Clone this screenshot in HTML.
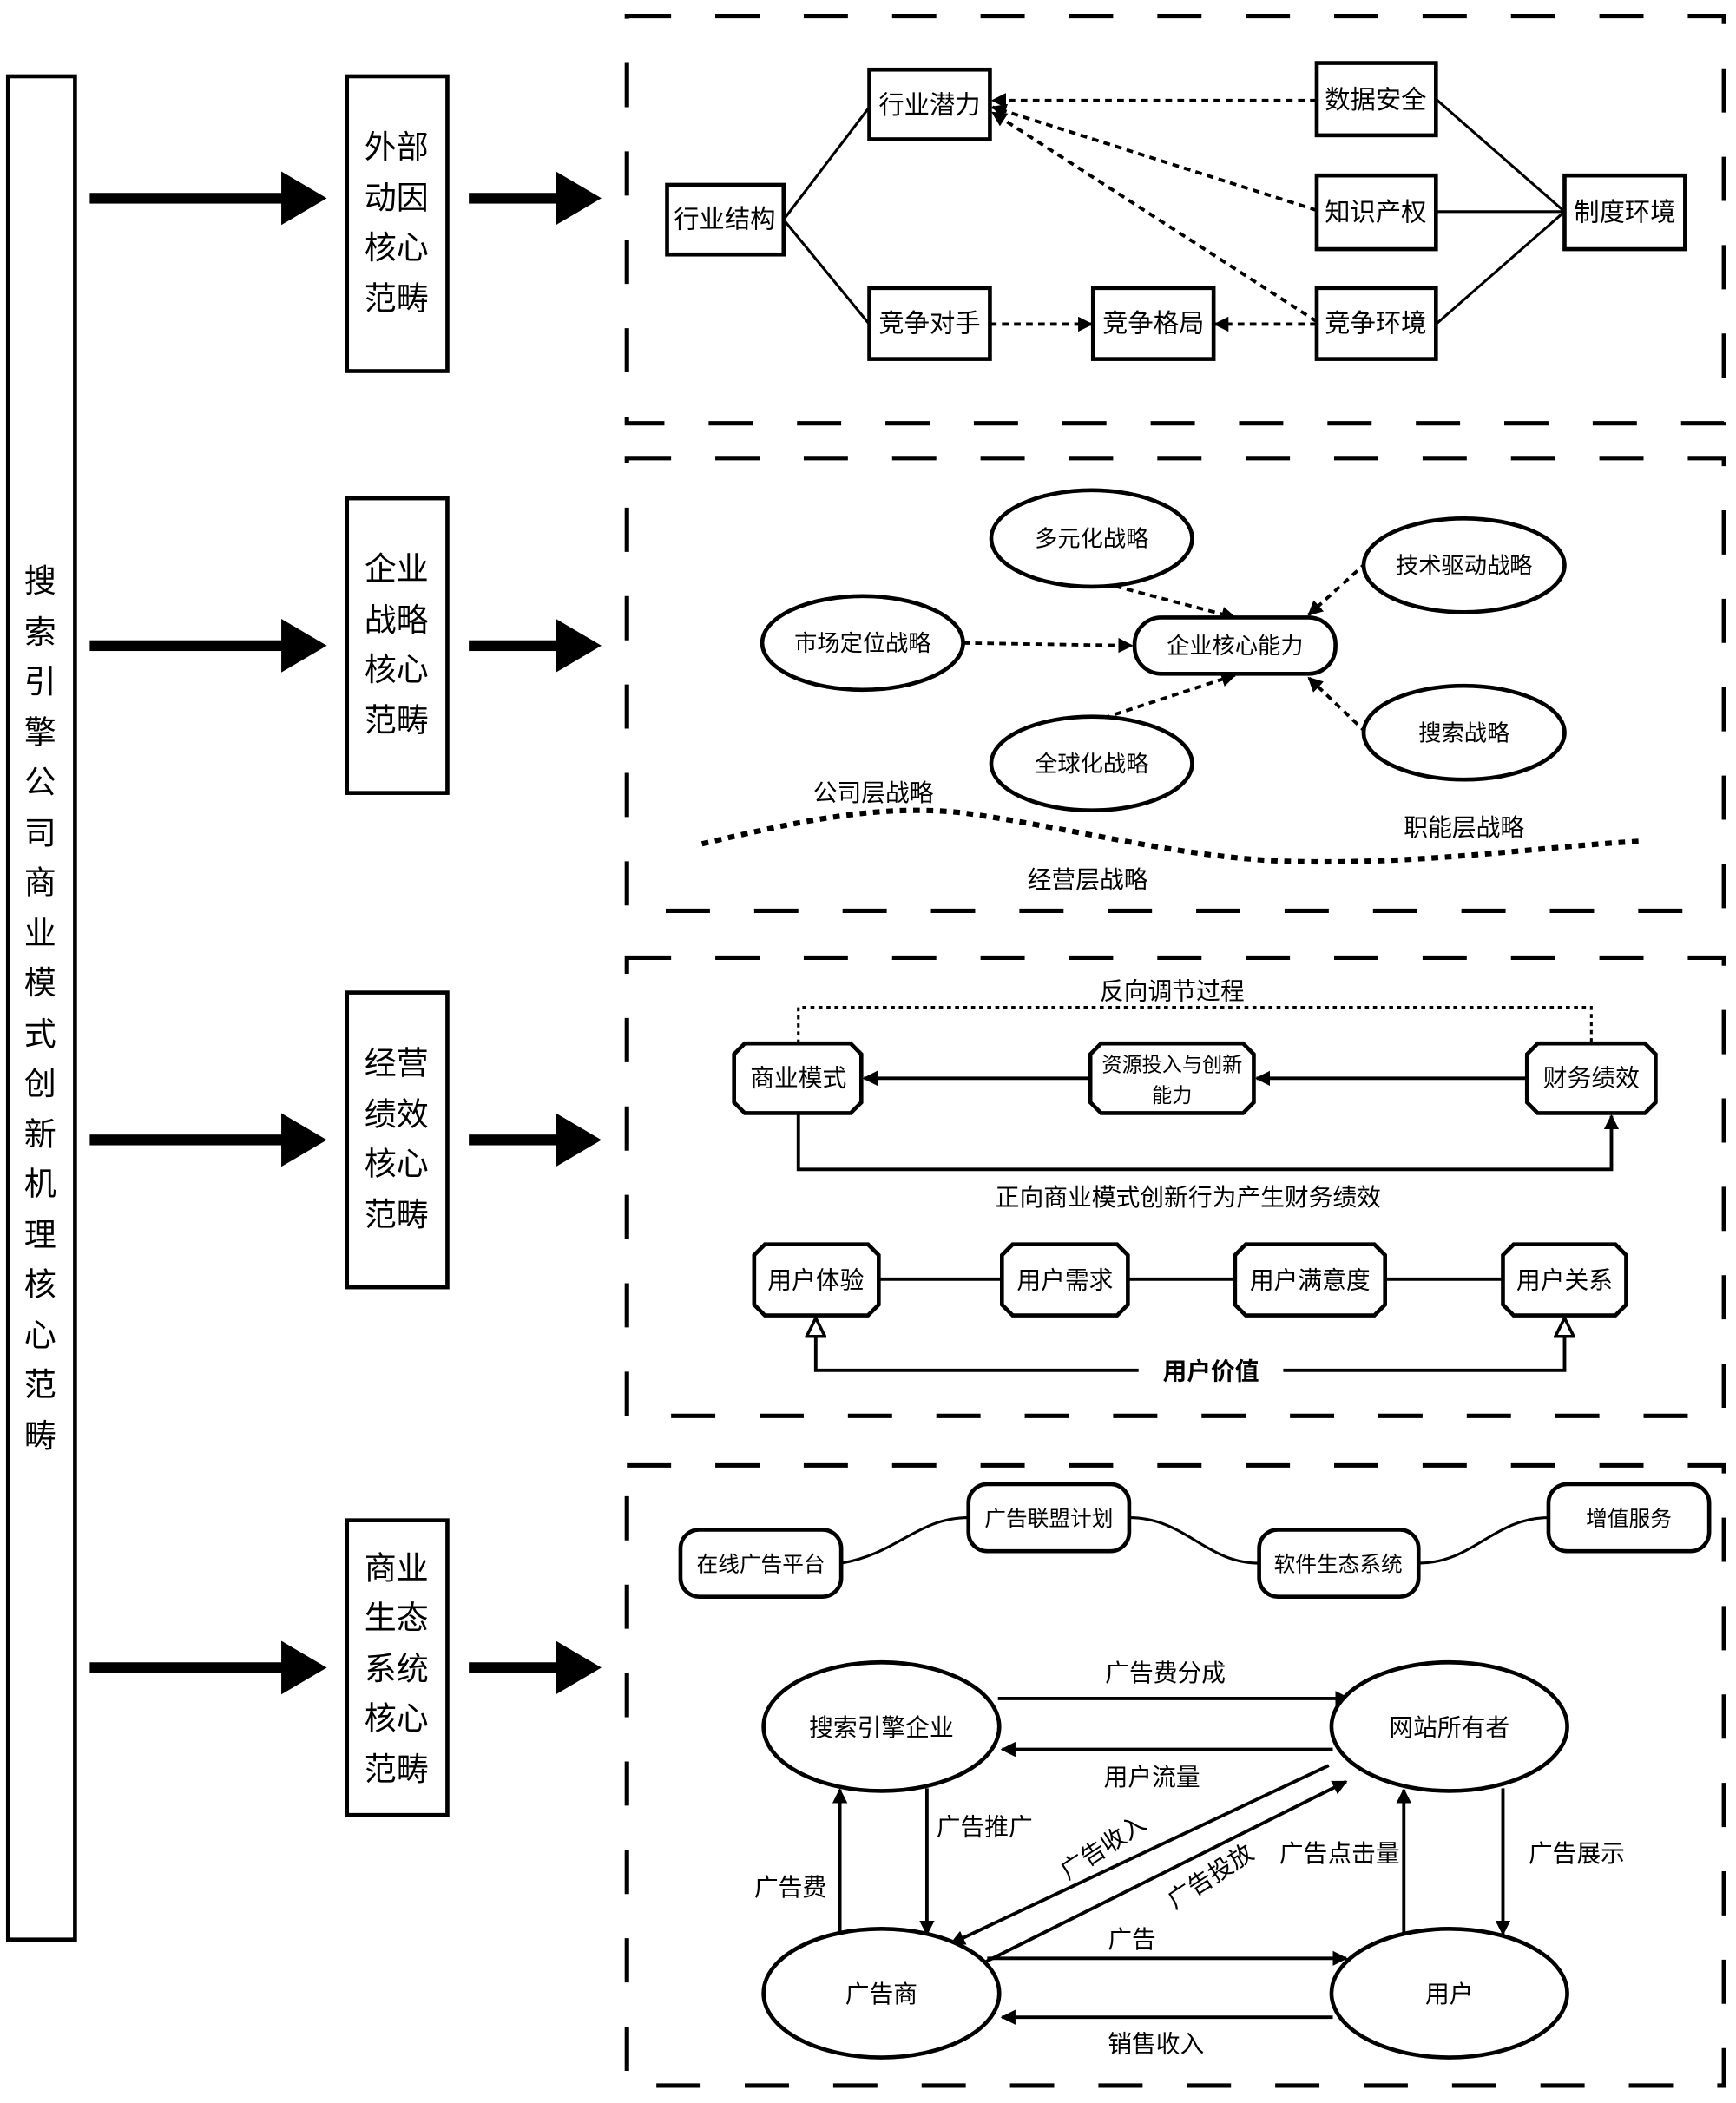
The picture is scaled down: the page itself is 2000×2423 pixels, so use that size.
<!DOCTYPE html>
<html><head><meta charset="utf-8"><style>
html,body{margin:0;padding:0;background:#fff}
svg{display:block}
text{font-family:"Liberation Sans","Noto Sans CJK SC",sans-serif;fill:#000}
</style></head><body>
<svg width="2000" height="2423" viewBox="0 0 1296 1570" preserveAspectRatio="none" xmlns="http://www.w3.org/2000/svg">
<defs>
<marker id="a" viewBox="0 0 10 10" refX="9" refY="5" markerWidth="4.5" markerHeight="4.5" orient="auto"><path d="M0,0L10,5L0,10z" fill="#000"/></marker>
<marker id="h" viewBox="0 0 14 14" refX="13" refY="7" markerWidth="16" markerHeight="16" orient="auto" markerUnits="userSpaceOnUse"><path d="M1,1L13,7L1,13z" fill="#fff" stroke="#000" stroke-width="2"/></marker>
<g id="ar" fill="#000"><rect x="67" y="-4" width="145" height="8"/><path d="M210,-20L244,0L210,20z"/><rect x="350" y="-4" width="67" height="8"/><path d="M415,-20L449,0L415,20z"/></g>
</defs>
<rect width="1296" height="1570" fill="#fff"/>
<!-- left tall box -->
<rect x="6" y="57" width="50" height="1391" fill="#fff" stroke="#000" stroke-width="3"/>
<g font-size="24" text-anchor="middle">
<text x="30" y="442">搜</text><text x="30" y="480">索</text><text x="30" y="517">引</text><text x="30" y="555">擎</text><text x="30" y="592">公</text><text x="30" y="630">司</text><text x="30" y="667">商</text><text x="30" y="705">业</text><text x="30" y="742">模</text><text x="30" y="780">式</text><text x="30" y="817">创</text><text x="30" y="855">新</text><text x="30" y="892">机</text><text x="30" y="930">理</text><text x="30" y="967">核</text><text x="30" y="1005">心</text><text x="30" y="1042">范</text><text x="30" y="1080">畴</text>
</g>
<!-- category boxes -->
<g fill="#fff" stroke="#000" stroke-width="3">
<rect x="259" y="57" width="75" height="220"/><rect x="259" y="372" width="75" height="220"/><rect x="259" y="741" width="75" height="220"/><rect x="259" y="1135" width="75" height="220"/>
</g>
<g font-size="24" text-anchor="middle">
<text x="296" y="118">外部</text><text x="296" y="156">动因</text><text x="296" y="193">核心</text><text x="296" y="231">范畴</text>
<text x="296" y="433">企业</text><text x="296" y="471">战略</text><text x="296" y="508">核心</text><text x="296" y="546">范畴</text>
<text x="296" y="802">经营</text><text x="296" y="840">绩效</text><text x="296" y="877">核心</text><text x="296" y="915">范畴</text>
<text x="296" y="1179">商业</text><text x="296" y="1216">生态</text><text x="296" y="1254">系统</text><text x="296" y="1291">核心</text><text x="296" y="1329">范畴</text>
</g>
<use href="#ar" y="148"/><use href="#ar" y="482"/><use href="#ar" y="851"/><use href="#ar" y="1245"/>
<!-- dashed panels -->
<g fill="none" stroke="#000" stroke-width="3.3" stroke-dasharray="33 33">
<rect x="468" y="12" width="819" height="304"/>
<rect x="468" y="342" width="819" height="338"/>
<rect x="468" y="715" width="819" height="342"/>
<rect x="468" y="1094" width="819" height="463"/>
</g>
<!-- panel1 -->
<g stroke="#000" stroke-width="2" fill="none">
<line x1="585" y1="164" x2="649" y2="80"/><line x1="585" y1="164" x2="649" y2="242"/>
<line x1="1168" y1="158" x2="1072" y2="74"/><line x1="1168" y1="158" x2="1072" y2="158"/><line x1="1168" y1="158" x2="1072" y2="242"/>
</g>
<g stroke="#000" stroke-width="2.5" fill="none" stroke-dasharray="5 4" marker-end="url(#a)">
<line x1="983" y1="75" x2="741" y2="75"/><line x1="983" y1="157" x2="741" y2="80"/><line x1="983" y1="240" x2="741" y2="84"/>
<line x1="739" y1="242" x2="815" y2="242"/><line x1="983" y1="242" x2="907" y2="242"/>
</g>
<g fill="#fff" stroke="#000" stroke-width="3">
<rect x="498" y="138" width="87" height="52"/><rect x="649" y="52" width="90" height="52"/><rect x="649" y="215" width="90" height="53"/><rect x="816" y="215" width="90" height="53"/>
<rect x="983" y="47" width="89" height="54"/><rect x="983" y="131" width="89" height="55"/><rect x="983" y="215" width="89" height="53"/><rect x="1168" y="131" width="90" height="55"/>
</g>
<g font-size="19" text-anchor="middle">
<text x="541" y="170">行业结构</text><text x="694" y="85">行业潜力</text><text x="694" y="248">竞争对手</text><text x="861" y="248">竞争格局</text>
<text x="1027" y="81">数据安全</text><text x="1027" y="165">知识产权</text><text x="1027" y="248">竞争环境</text><text x="1213" y="165">制度环境</text>
</g>
<!-- panel2 -->
<g stroke="#000" stroke-width="2.5" fill="none" stroke-dasharray="5 4" marker-end="url(#a)">
<line x1="815" y1="433" x2="922" y2="461"/><line x1="1020" y1="420" x2="977" y2="459"/><line x1="719" y1="480" x2="845" y2="482"/>
<line x1="815" y1="539" x2="922" y2="504"/><line x1="1020" y1="547" x2="977" y2="506"/>
</g>
<g fill="#fff" stroke="#000" stroke-width="3">
<ellipse cx="815" cy="402" rx="75" ry="36"/><ellipse cx="1093" cy="422" rx="75" ry="35"/><ellipse cx="644" cy="480" rx="75" ry="35"/><ellipse cx="815" cy="570" rx="75" ry="35"/><ellipse cx="1093" cy="547" rx="75" ry="35"/>
<rect x="847" y="461" width="150" height="42" rx="20"/>
</g>
<g font-size="17" text-anchor="middle">
<text x="815" y="408">多元化战略</text><text x="1093" y="428">技术驱动战略</text><text x="644" y="486">市场定位战略</text><text x="815" y="576">全球化战略</text><text x="1093" y="553">搜索战略</text><text x="922" y="488">企业核心能力</text>
</g>
<path d="M524,630 C600,612 660,600 720,607 C800,618 880,640 960,643 C1060,646 1150,632 1225,628" fill="none" stroke="#000" stroke-width="4" stroke-dasharray="5 5"/>
<g font-size="18" text-anchor="middle"><text x="652" y="598">公司层战略</text><text x="1093" y="624">职能层战略</text><text x="812" y="663">经营层战略</text></g>
<!-- panel3 -->
<path d="M596,779V752H1188V779" fill="none" stroke="#000" stroke-width="2" stroke-dasharray="3 3"/>
<g stroke="#000" stroke-width="2.5" fill="none" marker-end="url(#a)">
<line x1="1140" y1="805" x2="938" y2="805"/><line x1="814" y1="805" x2="645" y2="805"/>
<path d="M596,831V873H1203V833"/>
</g>
<g fill="#fff" stroke="#000" stroke-width="3">
<path d="M556,779H635L643,787V823L635,831H556L548,823V787z"/>
<path d="M822,779H928L936,787V823L928,831H822L814,823V787z"/>
<path d="M1148,779H1228L1236,787V823L1228,831H1148L1140,823V787z"/>
</g>
<g font-size="18" text-anchor="middle">
<text x="875" y="746">反向调节过程</text>
<text x="596" y="811">商业模式</text><text x="1188" y="811">财务绩效</text>
<text x="875" y="800" font-size="15">资源投入与创新</text><text x="875" y="823" font-size="15">能力</text>
<text x="887" y="900">正向商业模式创新行为产生财务绩效</text>
</g>
<line x1="656" y1="955" x2="1122" y2="955" stroke="#000" stroke-width="2.5"/>
<g stroke="#000" stroke-width="2.5" fill="none" marker-end="url(#h)">
<path d="M850,1023H609V984"/><path d="M958,1023H1168V984"/>
</g>
<g fill="#fff" stroke="#000" stroke-width="3">
<path d="M571,929H648L656,937V974L648,982H571L563,974V937z"/>
<path d="M756,929H834L842,937V974L834,982H756L748,974V937z"/>
<path d="M930,929H1026L1034,937V974L1026,982H930L922,974V937z"/>
<path d="M1130,929H1206L1214,937V974L1206,982H1130L1122,974V937z"/>
</g>
<g font-size="18" text-anchor="middle">
<text x="609" y="962">用户体验</text><text x="795" y="962">用户需求</text><text x="978" y="962">用户满意度</text><text x="1168" y="962">用户关系</text>
<text x="904" y="1030" font-weight="bold">用户价值</text>
</g>
<!-- panel4 -->
<g stroke="#000" stroke-width="2" fill="none">
<path d="M628,1167 C670,1160 685,1133 723,1133"/>
<path d="M843,1133 C885,1133 900,1167 940,1167"/>
<path d="M1059,1167 C1100,1167 1115,1133 1156,1133"/>
</g>
<g fill="#fff" stroke="#000" stroke-width="3">
<rect x="508" y="1142" width="120" height="50" rx="14"/><rect x="723" y="1108" width="120" height="50" rx="14"/><rect x="940" y="1142" width="119" height="50" rx="14"/><rect x="1156" y="1108" width="120" height="50" rx="14"/>
</g>
<g font-size="16" text-anchor="middle">
<text x="568" y="1173">在线广告平台</text><text x="783" y="1139">广告联盟计划</text><text x="999" y="1173">软件生态系统</text><text x="1216" y="1139">增值服务</text>
</g>
<g stroke="#000" stroke-width="2.5" fill="none" marker-end="url(#a)">
<line x1="745" y1="1268" x2="1007" y2="1268"/><line x1="995" y1="1306" x2="748" y2="1306"/>
<line x1="692" y1="1335" x2="692" y2="1444"/><line x1="627" y1="1445" x2="627" y2="1336"/>
<line x1="1122" y1="1335" x2="1122" y2="1444"/><line x1="1048" y1="1445" x2="1048" y2="1336"/>
<line x1="737" y1="1462" x2="1005" y2="1462"/><line x1="995" y1="1506" x2="748" y2="1506"/>
<line x1="992" y1="1318" x2="710" y2="1451"/><line x1="735" y1="1465" x2="1005" y2="1330"/>
</g>
<g fill="#fff" stroke="#000" stroke-width="3">
<ellipse cx="658" cy="1289" rx="88" ry="48"/><ellipse cx="1082" cy="1289" rx="88" ry="48"/><ellipse cx="658" cy="1488" rx="88" ry="48"/><ellipse cx="1082" cy="1488" rx="88" ry="48"/>
</g>
<g font-size="18" text-anchor="middle">
<text x="658" y="1296">搜索引擎企业</text><text x="1082" y="1296">网站所有者</text><text x="658" y="1495">广告商</text><text x="1082" y="1495">用户</text>
<text x="870" y="1255">广告费分成</text><text x="860" y="1333">用户流量</text><text x="735" y="1370">广告推广</text><text x="590" y="1415">广告费</text>
<text x="1177" y="1390">广告展示</text><text x="1000" y="1390">广告点击量</text><text x="845" y="1454">广告</text><text x="863" y="1532">销售收入</text>
<text transform="translate(827,1384) rotate(-33)">广告收入</text><text transform="translate(907,1406) rotate(-33)">广告投放</text>
</g>
</svg>
</body></html>
